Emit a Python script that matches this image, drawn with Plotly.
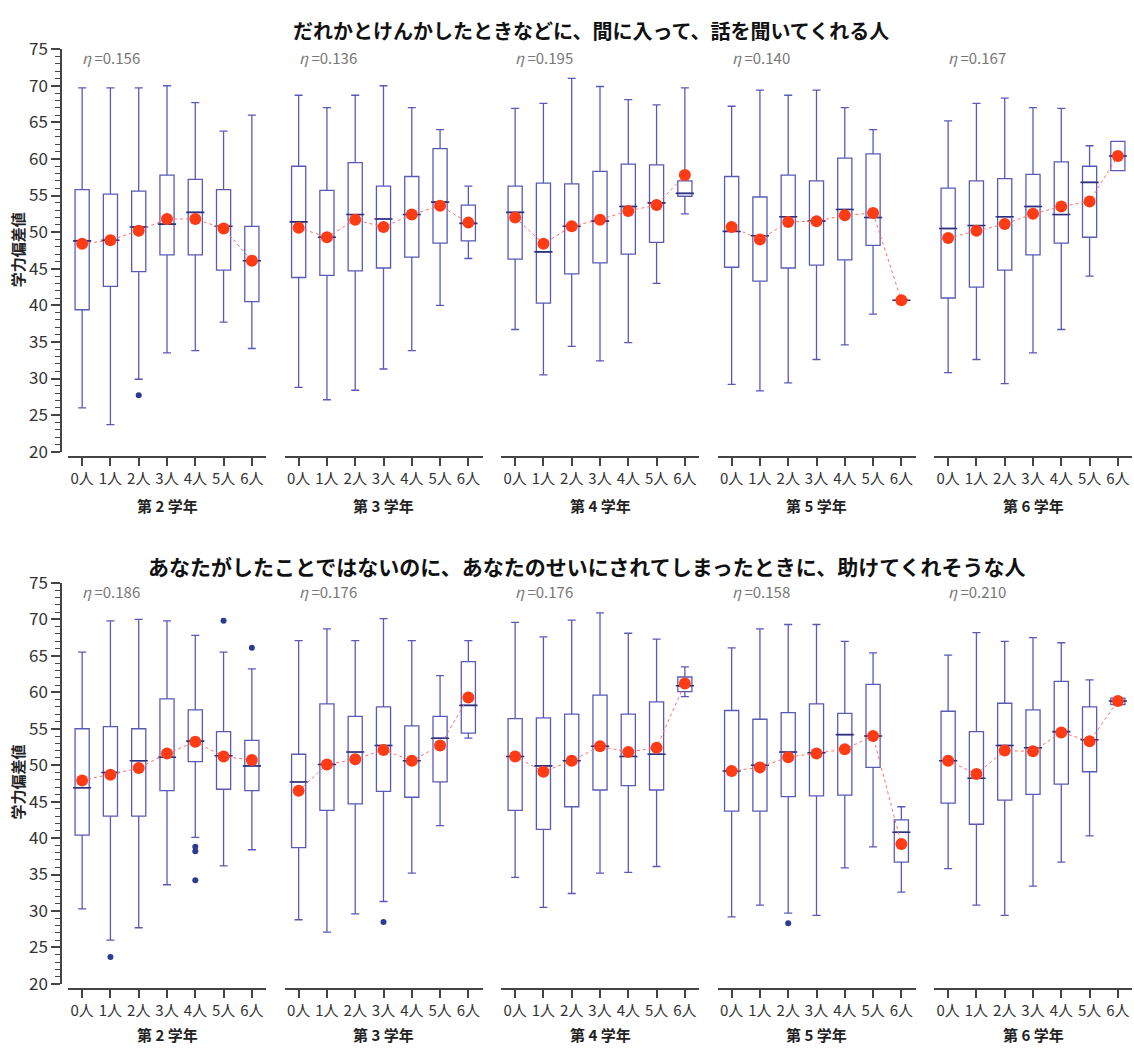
import plotly.graph_objects as go

W, H = 1134, 1060

categories = ["0人", "1人", "2人", "3人", "4人", "5人", "6人"]
grade_labels = ["第 2 学年", "第 3 学年", "第 4 学年", "第 5 学年", "第 6 学年"]
row_titles = [
    "だれかとけんかしたときなどに、間に入って、話を聞いてくれる人",
    "あなたがしたことではないのに、あなたのせいにされてしまったときに、助けてくれそうな人",
]
eta_top = ["0.156", "0.136", "0.195", "0.140", "0.167"]
eta_bottom = ["0.186", "0.176", "0.176", "0.158", "0.210"]

# ---------- Top row: rows = grade 2..6, cols = 0人..6人 ----------
top_upper = [
    [69.7, 69.7, 69.7, 70.0, 67.7, 63.8, 66.0],
    [68.7, 67.0, 68.7, 70.0, 67.0, 64.0, 56.3],
    [66.9, 67.6, 71.0, 69.9, 68.1, 67.4, 69.7],
    [67.2, 69.4, 68.7, 69.4, 67.0, 64.0, 40.7],
    [65.2, 67.6, 68.3, 67.0, 66.9, 61.8, 62.4],
]
top_q3 = [
    [55.8, 55.2, 55.6, 57.8, 57.2, 55.8, 50.8],
    [59.0, 55.7, 59.5, 56.3, 57.6, 61.4, 53.7],
    [56.3, 56.7, 56.6, 58.3, 59.3, 59.2, 57.0],
    [57.6, 54.8, 57.8, 57.0, 60.1, 60.7, 40.7],
    [56.0, 57.0, 57.3, 57.9, 59.6, 59.0, 62.4],
]
top_median = [
    [48.8, 48.9, 50.7, 51.1, 52.7, 50.8, 46.1],
    [51.4, 49.3, 52.4, 51.8, 52.4, 54.1, 51.2],
    [52.7, 47.3, 50.8, 51.5, 53.5, 54.0, 55.3],
    [50.1, 49.5, 52.1, 51.5, 53.1, 52.0, 40.7],
    [50.5, 50.9, 52.1, 53.5, 52.4, 56.8, 60.4],
]
top_q1 = [
    [39.4, 42.6, 44.6, 46.9, 46.9, 44.8, 40.5],
    [43.8, 44.1, 44.7, 45.1, 46.6, 48.5, 48.8],
    [46.3, 40.3, 44.3, 45.8, 47.0, 48.6, 54.9],
    [45.2, 43.3, 45.1, 45.5, 46.2, 48.2, 40.7],
    [41.0, 42.5, 44.8, 46.9, 48.5, 49.3, 58.4],
]
top_lower = [
    [26.0, 23.7, 29.9, 33.5, 33.8, 37.7, 34.1],
    [28.8, 27.1, 28.4, 31.3, 33.8, 40.0, 46.4],
    [36.7, 30.5, 34.4, 32.4, 34.9, 43.0, 52.5],
    [29.2, 28.3, 29.4, 32.6, 34.6, 38.8, 40.7],
    [30.8, 32.6, 29.3, 33.5, 36.7, 44.0, 58.4],
]
top_mean = [
    [48.4, 48.9, 50.2, 51.8, 51.8, 50.5, 46.1],
    [50.6, 49.3, 51.7, 50.7, 52.4, 53.6, 51.3],
    [52.0, 48.4, 50.8, 51.7, 52.9, 53.7, 57.8],
    [50.7, 49.0, 51.4, 51.5, 52.3, 52.6, 40.7],
    [49.2, 50.2, 51.1, 52.5, 53.5, 54.2, 60.4],
]
top_out_grade = [0]
top_out_cat = ["2人"]
top_out_val = [27.7]

# ---------- Bottom row ----------
bot_upper = [
    [65.5, 69.8, 70.0, 69.8, 67.8, 65.5, 63.2],
    [67.1, 68.7, 67.1, 70.1, 67.1, 62.3, 67.1],
    [69.6, 67.6, 69.9, 70.9, 68.1, 67.3, 63.5],
    [66.1, 68.7, 69.3, 69.3, 67.0, 65.4, 44.3],
    [65.1, 68.2, 67.0, 67.5, 66.8, 61.7, 59.2],
]
bot_q3 = [
    [55.0, 55.3, 55.0, 59.1, 57.6, 54.6, 53.4],
    [51.5, 58.4, 56.7, 58.0, 55.4, 56.7, 64.2],
    [56.4, 56.5, 57.0, 59.6, 57.0, 58.7, 62.1],
    [57.5, 56.3, 57.2, 58.4, 57.1, 61.1, 42.5],
    [57.4, 54.6, 58.5, 57.6, 61.5, 58.0, 59.2],
]
bot_median = [
    [46.9, 49.0, 50.6, 51.1, 53.3, 51.3, 49.9],
    [47.7, 50.1, 51.8, 52.7, 50.6, 53.7, 58.2],
    [51.2, 49.9, 50.6, 52.6, 51.2, 51.5, 60.9],
    [49.2, 50.0, 51.8, 51.7, 54.2, 54.0, 40.8],
    [50.6, 48.2, 52.7, 52.4, 54.6, 53.5, 58.8],
]
bot_q1 = [
    [40.4, 43.0, 43.0, 46.5, 50.5, 46.7, 46.5],
    [38.7, 43.8, 44.7, 46.4, 45.6, 47.7, 54.4],
    [43.8, 41.2, 44.3, 46.6, 47.2, 46.6, 60.1],
    [43.7, 43.7, 45.7, 45.8, 45.9, 49.7, 36.7],
    [44.8, 41.9, 45.2, 46.0, 47.4, 49.1, 58.3],
]
bot_lower = [
    [30.3, 26.0, 27.7, 33.6, 40.1, 36.2, 38.4],
    [28.8, 27.1, 29.6, 31.3, 35.2, 41.7, 53.7],
    [34.6, 30.5, 32.4, 35.2, 35.3, 36.1, 59.4],
    [29.2, 30.8, 29.7, 29.4, 35.9, 38.8, 32.6],
    [35.8, 30.8, 29.4, 33.4, 36.7, 40.3, 58.3],
]
bot_mean = [
    [47.9, 48.7, 49.6, 51.6, 53.2, 51.2, 50.7],
    [46.5, 50.1, 50.8, 52.1, 50.6, 52.7, 59.3],
    [51.2, 49.1, 50.6, 52.6, 51.8, 52.4, 61.2],
    [49.2, 49.7, 51.1, 51.6, 52.2, 54.0, 39.2],
    [50.6, 48.8, 52.0, 51.9, 54.5, 53.3, 58.8],
]
bot_out_grade = [0, 0, 0, 0, 0, 0, 1, 3]
bot_out_cat = ["1人", "4人", "4人", "4人", "5人", "6人", "3人", "2人"]
bot_out_val = [23.7, 38.8, 38.2, 34.2, 69.8, 66.1, 28.5, 28.3]

# ---------- styling ----------
FONT = "Noto Sans CJK JP"
BOX = "#5a5ab6"
MED = "#30307e"
MEAN = "#ff3c14"
MEANLINE = "#ff6f62"
OUTC = "#2c3c92"
AX = "#444444"

rows = [
    dict(upper=top_upper, q3=top_q3, med=top_median, q1=top_q1, low=top_lower,
         mean=top_mean, og=top_out_grade, oc=top_out_cat, ov=top_out_val,
         eta=eta_top, title=row_titles[0],
         ydom=(448.3, 36.0), xline=454, eta_y=45, grade_y=503, title_y=17,
         title_x=591, title_size=20, ytitle_y=242),
    dict(upper=bot_upper, q3=bot_q3, med=bot_median, q1=bot_q1, low=bot_lower,
         mean=bot_mean, og=bot_out_grade, oc=bot_out_cat, ov=bot_out_val,
         eta=eta_bottom, title=row_titles[1],
         ydom=(993.3, 582.7), xline=999, eta_y=591, grade_y=1045, title_y=565,
         title_x=587, title_size=21, ytitle_y=787),
]

panel_left = [68 + 216.5 * k for k in range(5)]
PANEL_W = 198

fig = go.Figure()
layout = dict(
    width=W, height=H, margin=dict(l=0, r=0, t=0, b=0),
    paper_bgcolor="white", plot_bgcolor="white", showlegend=False,
    font=dict(family=FONT, color="#333"),
)
annotations = []

for r, row in enumerate(rows):
    yname = "y" if r == 0 else "y2"
    ykey = "yaxis" if r == 0 else "yaxis2"
    layout[ykey] = dict(
        domain=[1 - row["ydom"][0] / H, 1 - row["ydom"][1] / H],
        range=[20, 75], anchor="free", position=61 / W,
        showline=True, linecolor=AX, linewidth=1.5,
        ticks="outside", ticklen=9, tickwidth=1.5, tickcolor=AX,
        tick0=20, dtick=5, showgrid=False, zeroline=False,
        tickfont=dict(size=17, color="#333", family=FONT),
        minor=dict(dtick=1, ticks="outside", ticklen=5, tickcolor=AX, tickwidth=1),
    )
    for p in range(5):
        n = r * 5 + p + 1
        xname = "x" if n == 1 else f"x{n}"
        xkey = "xaxis" if n == 1 else f"xaxis{n}"
        left = panel_left[p]
        layout[xkey] = dict(
            domain=[left / W, (left + PANEL_W) / W],
            type="category", categoryorder="array", categoryarray=categories,
            range=[-0.5, 6.5], anchor="free", position=1 - row["xline"] / H,
            showline=True, linecolor=AX, linewidth=1.5,
            ticks="outside", ticklen=8, tickwidth=1.5, tickcolor=AX,
            showgrid=False, zeroline=False,
            tickfont=dict(size=15, color="#333", family=FONT),
        )
        fig.add_trace(go.Box(
            x=categories, q1=row["q1"][p], median=row["med"][p], q3=row["q3"][p],
            lowerfence=row["low"][p], upperfence=row["upper"][p],
            xaxis=xname, yaxis=yname, width=0.5, whiskerwidth=0.57,
            line=dict(color=BOX, width=1.3), fillcolor="white", boxpoints=False,
        ))
        fig.add_trace(go.Scatter(
            x=categories, y=row["med"][p], mode="markers", xaxis=xname, yaxis=yname,
            marker=dict(symbol="line-ew", size=13, line=dict(width=1.6, color=MED)),
            hoverinfo="skip",
        ))
        ox = [c for g, c in zip(row["og"], row["oc"]) if g == p]
        oy = [v for g, v in zip(row["og"], row["ov"]) if g == p]
        if ox:
            fig.add_trace(go.Scatter(
                x=ox, y=oy, mode="markers", xaxis=xname, yaxis=yname,
                marker=dict(color=OUTC, size=6),
            ))
        fig.add_trace(go.Scatter(
            x=categories, y=row["mean"][p], mode="lines+markers",
            xaxis=xname, yaxis=yname,
            line=dict(color=MEANLINE, width=1, dash="dot"),
            marker=dict(color=MEAN, size=12),
        ))
        annotations.append(dict(
            text=f"<i>η</i> ={row['eta'][p]}", x=(left + 12) / W, y=1 - row["eta_y"] / H,
            xref="paper", yref="paper", xanchor="left", yanchor="middle",
            showarrow=False, font=dict(size=15, color="#777", family=FONT),
        ))
        annotations.append(dict(
            text=f"<b>{grade_labels[p]}</b>", x=(left + PANEL_W / 2) / W,
            y=1 - row["grade_y"] / H, xref="paper", yref="paper",
            xanchor="center", yanchor="middle", showarrow=False,
            font=dict(size=15, color="#222", family=FONT),
        ))
    annotations.append(dict(
        text=f"<b>{row['title']}</b>", x=row["title_x"] / W, y=1 - row["title_y"] / H,
        xref="paper", yref="paper", xanchor="center", yanchor="middle",
        showarrow=False, font=dict(size=row["title_size"], color="#111", family=FONT),
    ))
    annotations.append(dict(
        text="<b>学力偏差値</b>", x=17 / W, y=1 - row["ytitle_y"] / H,
        xref="paper", yref="paper", xanchor="center", yanchor="middle",
        textangle=-90, showarrow=False, font=dict(size=15, color="#222", family=FONT),
    ))

layout["annotations"] = annotations
fig.update_layout(**layout)
fig.write_html("out.html")
